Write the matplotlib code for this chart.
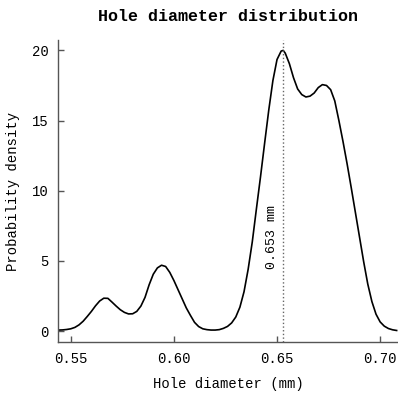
import matplotlib
matplotlib.use("Agg")
import matplotlib.pyplot as plt

# Values (diameter in mm, density)
diam = [0.544, 0.546, 0.548, 0.550, 0.552, 0.554, 0.556, 0.558, 0.560, 0.562,
        0.564, 0.566, 0.568, 0.570, 0.572, 0.574, 0.576, 0.578, 0.580, 0.582,
        0.584, 0.586, 0.588, 0.590, 0.592, 0.594, 0.596, 0.598, 0.600, 0.602,
        0.604, 0.606, 0.608, 0.610, 0.612, 0.614, 0.616, 0.618, 0.620, 0.622,
        0.624, 0.626, 0.628, 0.630, 0.632, 0.634, 0.636, 0.638, 0.640, 0.642,
        0.644, 0.646, 0.648, 0.650, 0.652, 0.653, 0.654, 0.656, 0.658, 0.660,
        0.662, 0.664, 0.666, 0.668, 0.670, 0.672, 0.674, 0.676, 0.678, 0.680,
        0.682, 0.684, 0.686, 0.688, 0.690, 0.692, 0.694, 0.696, 0.698, 0.700,
        0.702, 0.704, 0.706, 0.708]
density = [0.07, 0.08, 0.11, 0.16, 0.26, 0.44, 0.70, 1.04, 1.40, 1.80,
           2.14, 2.34, 2.33, 2.06, 1.78, 1.52, 1.33, 1.22, 1.23, 1.40,
           1.78, 2.40, 3.30, 4.05, 4.50, 4.69, 4.60, 4.18, 3.60, 2.95,
           2.30, 1.65, 1.12, 0.62, 0.32, 0.16, 0.10, 0.07, 0.07, 0.10,
           0.19, 0.33, 0.58, 1.00, 1.70, 2.80, 4.40, 6.35, 8.70, 11.0,
           13.4, 15.75, 17.85, 19.35, 19.95, 20.0, 19.8, 19.05, 18.05, 17.25,
           16.85, 16.68, 16.74, 16.96, 17.35, 17.56, 17.5, 17.2, 16.4, 15.0,
           13.5, 11.9, 10.2, 8.45, 6.7, 4.95, 3.35, 2.1, 1.2, 0.65,
           0.35, 0.18, 0.09, 0.04]
mode_value = 0.653
xticks = [0.55, 0.60, 0.65, 0.70]
yticks = [0, 5, 10, 15, 20]

plt.rcParams['font.family'] = ['Liberation Mono', 'DejaVu Sans Mono']

fig = plt.figure(figsize=(3.98, 3.93), dpi=100)
ax = fig.add_axes([0.1457, 0.1298, 0.854, 0.7684])

ax.plot(diam, density, color='black', linewidth=1.2, solid_joinstyle='round')
ax.axvline(mode_value, color='#666666', linestyle=':', linewidth=1.0)
ax.text(0.6475, 6.7, f'{mode_value:.3f} mm', rotation=90, ha='center', va='center',
        fontsize=9.5)

ax.set_xlim(0.5438, 0.7086)
ax.set_ylim(-0.78, 20.74)
ax.set_xticks(xticks)
ax.set_xticklabels([f'{t:.2f}' for t in xticks])
ax.set_yticks(yticks)

for s in ['top', 'right']:
    ax.spines[s].set_visible(False)
for s in ['left', 'bottom']:
    ax.spines[s].set_color('#555555')
    ax.spines[s].set_linewidth(1.0)
ax.tick_params(direction='in', length=4, width=1, color='#555555',
               labelsize=10, pad=7)

ax.set_xlabel('Hole diameter (mm)', fontsize=10, labelpad=8)
ax.set_ylabel('Probability density', fontsize=10, labelpad=8)
ax.set_title('Hole diameter distribution', fontsize=12, fontweight='bold', pad=14)

fig.savefig('out.png', dpi=100)
